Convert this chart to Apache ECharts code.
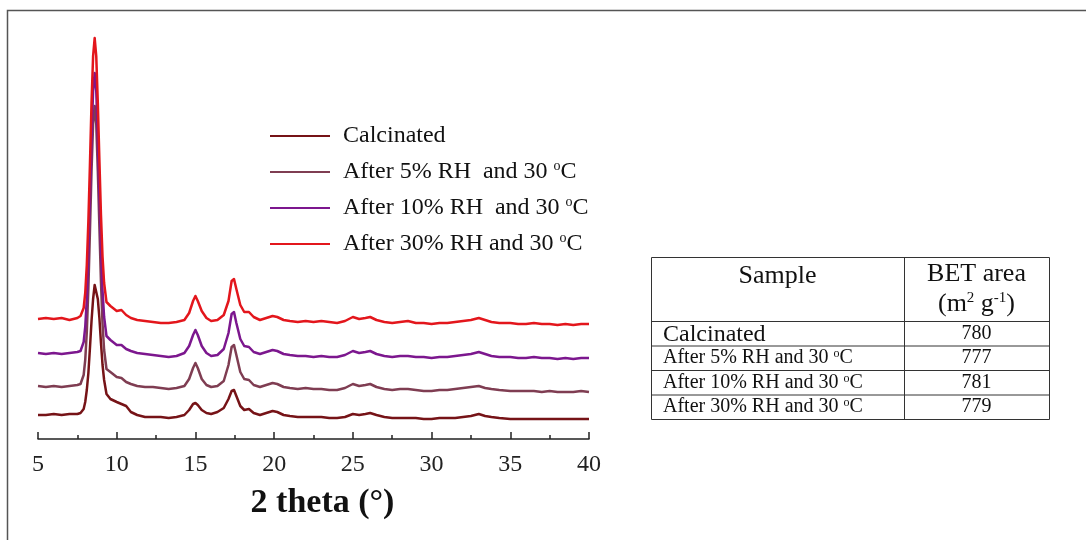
<!DOCTYPE html>
<html><head><meta charset="utf-8">
<script src="https://cdn.jsdelivr.net/npm/echarts@6/dist/echarts.min.js"></script>
<style>html,body{margin:0;padding:0;background:#fff}#c{width:1086px;height:540px}</style>
</head><body><div id="c"></div>
<script>
// 2θ positions (degrees)
const twoTheta = [5,5.5,6,6.5,7,7.5,7.7,7.8,7.9,8.0,8.1,8.2,8.3,8.4,8.5,8.6,8.7,8.8,8.9,9.0,9.1,9.2,9.35,9.6,10,
  10.3,10.6,10.9,11.3,11.8,12.3,12.8,13.3,13.8,14.3,14.6,14.85,15.0,15.15,15.4,15.7,16.0,16.4,16.8,17.1,17.3,17.45,17.6,17.85,18.1,18.4,18.7,19.1,19.5,19.9,20.2,20.6,21,21.5,22,22.5,23,23.5,24,24.5,25,25.4,25.8,26.1,26.5,27,27.5,28,28.5,29,29.5,30,30.5,31,31.5,32,32.5,33,33.4,33.8,34.3,35,35.5,36,36.5,37,37.5,38,38.5,39,39.5,40];
// intensities (a.u., stacked offsets as drawn)
const calcinated = [24,24,25,24,25,25,26,27,30,37,49,66,91,118,140,154,154,140,121,96,74,59,45,40,37,
  35,33,27,24,22,22,22,21,22,24,29,35,36,34,29,26,25,27,31,40,48,49,43,33,29,30,26,24,26,28,27,24,23,22,22,22,22,21,21,22,25,24,25,26,24,22,21,21,21,21,20,20,21,21,21,22,23,25,23,22,21,20,20,20,20,20,20,20,20,20,20,20];
const rh5 = [53,52,53,52,53,54,55,57,64,79,107,151,208,268,315,333,315,268,212,157,115,89,70,67,62,
  61,57,55,53,52,52,51,50,51,53,60,71,76,71,60,54,52,53,58,74,92,94,84,67,60,59,54,52,54,56,55,52,51,50,51,50,50,49,49,51,55,53,54,55,52,50,49,50,50,49,48,48,49,49,50,51,52,53,51,50,49,48,48,48,48,47,48,47,47,47,48,47];
const rh10 = [86,85,86,85,86,87,88,90,97,112,140,184,241,301,348,366,348,301,245,190,148,122,103,99,94,
  94,90,88,86,85,84,83,82,83,86,93,104,109,104,93,86,83,84,90,106,125,127,116,100,93,92,87,85,87,89,88,85,84,83,83,82,83,82,82,84,88,86,87,88,85,83,82,83,83,82,82,81,82,82,83,84,85,87,85,83,82,82,81,81,82,81,81,80,81,80,81,81];
const rh30 = [120,121,120,121,119,121,123,124,131,146,174,218,275,336,383,401,383,336,279,224,182,156,137,133,128,
  129,124,121,119,118,117,116,116,117,119,126,138,143,138,128,121,118,119,124,138,158,160,150,134,127,127,122,119,121,123,122,119,118,117,118,117,118,117,116,118,122,120,121,122,119,117,116,117,118,116,116,115,116,116,117,118,119,121,119,117,116,116,115,115,116,115,115,114,115,114,115,115];
const seriesNames = ['Calcinated','After 5% RH  and 30 °C','After 10% RH  and 30 °C','After 30% RH and 30 °C'];
const seriesColors = ['#761317','#7f3d52','#7c178e','#e3161c'];
const xTicks = [5,10,15,20,25,30,35,40];
// table
const tableSamples = ['Calcinated','After 5% RH and 30 °C','After 10% RH and 30 °C','After 30% RH and 30 °C'];
const tableBET = ['780','777','781','779'];

const serif = '"Liberation Serif","Times New Roman",serif';
const allY = [calcinated, rh5, rh10, rh30];
const series = allY.map((ys, i) => ({
  name: seriesNames[i], type: 'line', symbol: 'none', smooth: false,
  data: twoTheta.map((x, k) => [x, ys[k]]),
  lineStyle: {color: seriesColors[i], width: 2.5, join: 'round'}, itemStyle: {color: seriesColors[i]},
  animation: false
}));

// table graphics
const tL = 651, tR = 1049, tC = 904, tTop = 257, tHead = 321, rowH = 24.5;
const g = [];
g.push({type:'rect', shape:{x:7.5,y:10.5,width:1100,height:560}, style:{fill:'none', stroke:'#555', lineWidth:1.5}, silent:true});
const tBottom = tHead + rowH * tableSamples.length;
g.push({type:'rect', shape:{x:tL+0.5,y:tTop+0.5,width:tR-tL,height:tBottom-tTop}, style:{fill:'#fff', stroke:'#333', lineWidth:1}});
g.push({type:'line', shape:{x1:tC+0.5,y1:tTop,x2:tC+0.5,y2:tBottom}, style:{stroke:'#333', lineWidth:1}});
for (let i = 0; i < tableSamples.length; i++) {
  const y = tHead + rowH * i;
  g.push({type:'line', shape:{x1:tL,y1:y+0.5,x2:tR,y2:y+0.5}, style:{stroke:'#333', lineWidth:1}});
}
g.push({type:'text', x:(tL+tC)/2, y:276, style:{text:'Sample', font:'26px '+serif, fill:'#111', align:'center', verticalAlign:'middle'}});
g.push({type:'text', x:(tC+tR)/2, y:274, style:{text:'BET area', font:'26px '+serif, fill:'#111', align:'center', verticalAlign:'middle'}});
g.push({type:'text', x:(tC+tR)/2, y:304, style:{text:'(m{s|2} g{s|-1})', font:'26px '+serif, fill:'#111', align:'center', verticalAlign:'middle',
  rich:{s:{fontSize:15, fontFamily:serif, fill:'#111', padding:[0,0,12,0]}}}});
tableSamples.forEach((s, i) => {
  const yc = tHead + rowH * i + rowH / 2;
  const big = i === 0;
  g.push({type:'text', x:663, y:yc + (big?1:0), style:{text: s.replace(' °C', ' {s|o}C'), font:(big?'24px ':'20px ')+serif, fill:'#111', align:'left', verticalAlign:'middle',
    rich:{s:{fontSize:12, fontFamily:serif, fill:'#111', padding:[0,0,7,0]}}}});
  g.push({type:'text', x:(tC+tR)/2, y:yc, style:{text: tableBET[i], font:'20px '+serif, fill:'#111', align:'center', verticalAlign:'middle'}});
});

const chart = echarts.init(document.getElementById('c'), null, {renderer:'canvas'});
chart.setOption({
  animation: false,
  backgroundColor: '#fff',
  grid: {left: 38, right: 497, top: 34, bottom: 101},
  xAxis: {
    type: 'value', min: 5, max: 40, interval: 5,
    name: '2 theta (°)', nameLocation: 'middle', nameGap: 47,
    nameTextStyle: {fontFamily: serif, fontWeight: 'bold', fontSize: 34, color: '#111', padding: [0,0,0,18]},
    axisLine: {onZero: false, lineStyle: {color: '#222', width: 1.5}},
    axisTick: {inside: true, length: 7, lineStyle: {color: '#222', width: 1.5}},
    minorTick: {show: true, splitNumber: 2, length: 4, lineStyle: {color: '#222', width: 1.5}},
    splitLine: {show: false},
    axisLabel: {fontFamily: serif, fontSize: 24, color: '#222', margin: 14,
      formatter: v => xTicks.includes(v) ? String(v) : ''}
  },
  yAxis: {type: 'value', min: 0, max: 405, show: false},
  legend: {
    orient: 'vertical', left: 265, top: 119, itemGap: 11, itemWidth: 60, itemHeight: 2,
    icon: 'rect',
    data: seriesNames,
    formatter: n => n.replace(' °C', ' {sup|o}C'),
    textStyle: {fontFamily: serif, fontSize: 24, color: '#111', padding: [0,0,0,8],
      rich: {sup: {fontFamily: serif, fontSize: 14, color: '#111', padding: [0,0,12,0]}}}
  },
  series: series,
  graphic: g
});
</script></body></html>
